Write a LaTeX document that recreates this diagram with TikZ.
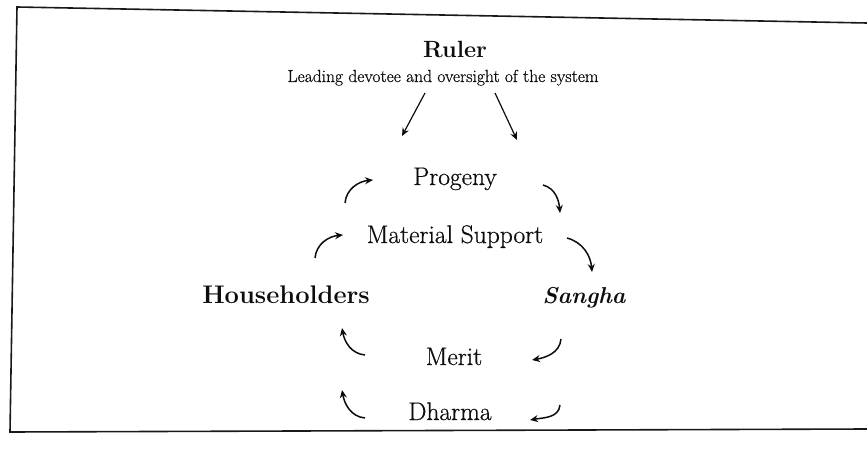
\documentclass[tikz,border=0pt]{standalone}
\usepackage{fontspec}
\usepackage{tikz}
\usetikzlibrary{arrows.meta, positioning}
\newfontfamily\inkfont{Latin Modern Roman}[FakeBold=0.6]
\definecolor{inkBlack}{gray}{0.05}
\definecolor{frameGray}{gray}{0.1}

\tikzset{
  txt/.style={inkBlack, inner sep=0pt, anchor=base},
  bigtxt/.style={txt, font=\inkfont\fontsize{25.5}{28}\selectfont},
  headtxt/.style={txt, font=\fontsize{25.5}{28}\selectfont\bfseries},
  cyc/.style={-{Stealth[length=8pt, width=7pt]}, line width=1.5pt, inkBlack},
}

\begin{document}
\begin{tikzpicture}[x=1pt, y=-1pt]
    \useasboundingbox (0,0) rectangle (867,457);

    % Frame
    \draw[frameGray, line width=1.6pt] (867,23) -- (17,7) -- (10,432) -- (867,429);

    \node[headtxt, font=\fontsize{23.5}{26}\selectfont\bfseries] (ruler) at (455,58) {Ruler};
    \node[txt, font=\inkfont\fontsize{17.5}{20}\selectfont] (role) at (443,82) {Leading devotee and oversight of the system};

    \node[bigtxt] (progeny) at (455,185) {Progeny};
    \node[bigtxt] (support) at (455,243) {Material Support};
    \node[headtxt] (house) at (286,303) {Householders};
    \node[headtxt, font=\fontsize{23}{28}\selectfont\bfseries\itshape] (sangha) at (584,303) {Sangha};
    \node[bigtxt] (merit) at (454,365) {Merit};
    \node[bigtxt] (dharma) at (450,420) {Dharma};

    % Arrow ends
    \coordinate (rA) at (425,93);  \coordinate (rB) at (402,136);
    \coordinate (rC) at (495,93);  \coordinate (rD) at (517,140);
    \coordinate (pA) at (345,203); \coordinate (pB) at (373,180);
    \coordinate (pC) at (543,185); \coordinate (pD) at (560,213);
    \coordinate (sA) at (315,258); \coordinate (sB) at (343,235);
    \coordinate (sC) at (567,238); \coordinate (sD) at (592,272);
    \coordinate (mA) at (365,355); \coordinate (mB) at (342,328);
    \coordinate (mC) at (561,339); \coordinate (mD) at (532,360);
    \coordinate (dA) at (365,418); \coordinate (dB) at (342,390);
    \coordinate (dC) at (560,405); \coordinate (dD) at (530,420);

    % Arrows
    \draw[cyc, line width=1.2pt] (rA) -- (rB); \draw[cyc, line width=1.2pt] (rC) -- (rD);
    \draw[cyc] (pA) to[out=85, in=185] (pB); \draw[cyc] (sA) to[out=85, in=185] (sB);
    \draw[cyc] (pC) to[out=-15, in=95] (pD); \draw[cyc] (sC) to[out=-15, in=95] (sD);
    \draw[cyc] (mA) to[out=175, in=-80] (mB); \draw[cyc] (dA) to[out=175, in=-80] (dB);
    \draw[cyc] (mC) to[out=-95, in=10] (mD); \draw[cyc] (dC) to[out=-95, in=10] (dD);
\end{tikzpicture}
\end{document}
